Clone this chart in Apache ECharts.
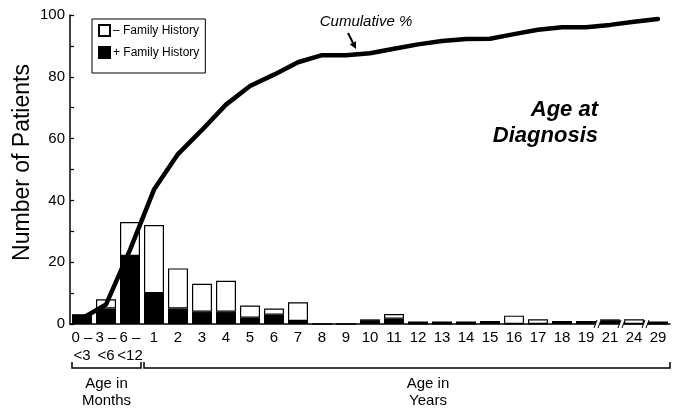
<!DOCTYPE html>
<html><head><meta charset="utf-8">
<script src="https://cdn.jsdelivr.net/npm/echarts@6/dist/echarts.min.js"></script>
<style>html,body{margin:0;padding:0;background:#fff}#c{width:683px;height:410px}</style>
</head><body><div id="c"></div>
<script>
// ---- data ----
const categories = ['0 \u2013\n<3', '3 \u2013\n<6', '6 \u2013\n<12',
  '1','2','3','4','5','6','7','8','9','10','11','12','13','14','15','16','17','18','19','21','24','29'];
// + Family History (black, bottom of stack)
const posFamily = [3, 5, 22, 10, 5, 4, 4, 2, 3, 1, 0, 0, 1, 1.7, 0, 0, 0, 0.8, 0, 0, 0.8, 0.8, 1, 0, 0];
// – Family History (white, top of stack)
const negFamily = [0, 3, 11, 22, 13, 9, 10, 4, 2, 6, 0, 0, 0.5, 1.5, 0.8, 0.8, 0.8, 0, 2.7, 1.5, 0, 0, 0.5, 1.5, 0.8];
// Cumulative % line
const cumulativePct = [1.8, 6.3, 24, 43.5, 55, 62.8, 71, 77, 80.7, 84.7, 87, 87, 87.6, 89.1, 90.5, 91.6, 92.2, 92.3, 93.8, 95.2, 96, 96, 96.8, 97.8, 98.7];
const yMin = 0, yMax = 100, yInterval = 10, yLabelStep = 20;
const breakAfter = ['19', '21', '24'];  // axis breaks "//" after these categories
const monthCats = 3;                    // first 3 categories are months

const FONT = 'Liberation Sans, Arial, Helvetica, sans-serif';
const chart = echarts.init(document.getElementById('c'), null, {renderer: 'canvas'});

const option = {
  animation: false,
  backgroundColor: '#fff',
  textStyle: {fontFamily: FONT, color: '#000'},
  grid: {left: 70, right: 13, top: 15, bottom: 86, containLabel: false, outerBoundsMode: 'none'},
  legend: {
    left: 92, top: 19, orient: 'vertical',
    data: ['\u2013 Family History', '+ Family History'],
    icon: 'rect', itemWidth: 11, itemHeight: 11, itemGap: 9,
    padding: [5, 6, 14, 6],
    backgroundColor: '#fff', borderColor: '#000', borderWidth: 1,
    textStyle: {fontSize: 12, color: '#000', fontFamily: FONT, padding: [0, 0, 0, -2]}
  },
  xAxis: {
    type: 'category', data: categories,
    axisLine: {show: true, lineStyle: {color: '#000', width: 1.5}},
    axisTick: {show: false},
    axisLabel: {interval: 0, fontSize: 15, color: '#000', margin: 5, lineHeight: 18, fontFamily: FONT}
  },
  yAxis: {
    type: 'value', min: yMin, max: yMax, interval: yInterval,
    name: 'Number of Patients', nameLocation: 'middle', nameGap: 36, nameRotate: 90,
    nameMoveOverlap: false,
    nameTextStyle: {fontSize: 23, color: '#000', fontFamily: FONT, padding: [0, 0, 0, 14]},
    axisLine: {show: true, lineStyle: {color: '#000', width: 1.5}},
    axisTick: {show: true, inside: true, length: 4, lineStyle: {color: '#000', width: 1.2}},
    splitLine: {show: false},
    axisLabel: {fontSize: 15, color: '#000', margin: 5, fontFamily: FONT,
      formatter: v => (v % yLabelStep === 0 ? String(v) : '')}
  },
  series: [
    {name: '+ Family History', type: 'bar', stack: 'fh', data: posFamily, barWidth: 20,
      itemStyle: {color: '#000', borderColor: '#000', borderWidth: 1.2}, z: 2},
    {name: '\u2013 Family History', type: 'bar', stack: 'fh', data: negFamily, barWidth: 20,
      itemStyle: {color: '#fff', borderColor: '#000', borderWidth: 1.2}, z: 2},
    {name: 'Cumulative %', type: 'line', data: cumulativePct, symbol: 'none', z: 5,
      lineStyle: {color: '#000', width: 4.5, cap: 'round', join: 'round'}}
  ]
};
chart.setOption(option);

// ---- annotations positioned from the axes ----
const px = i => chart.convertToPixel({xAxisIndex: 0}, i);
const py = v => chart.convertToPixel({yAxisIndex: 0}, v);
const band = px(1) - px(0);
const y0 = py(0);
const g = [];
// axis breaks
breakAfter.forEach(lbl => {
  const i = categories.indexOf(lbl);
  const bx = (px(i) + px(i + 1)) / 2;
  g.push({type: 'polygon', shape: {points: [[bx - 4, y0 + 4], [bx - 1, y0 - 4], [bx + 3, y0 - 4], [bx, y0 + 4]]},
    style: {fill: '#fff'}, z: 10});
  g.push({type: 'line', shape: {x1: bx - 4, y1: y0 + 4, x2: bx - 1, y2: y0 - 4}, style: {stroke: '#000', lineWidth: 1}, z: 11});
  g.push({type: 'line', shape: {x1: bx, y1: y0 + 4, x2: bx + 3, y2: y0 - 4}, style: {stroke: '#000', lineWidth: 1}, z: 11});
});
// brackets
const bY = y0 + 44, bH = 6;
const lx1 = px(0) - band / 2 + 2, lx2 = px(monthCats - 1) + band / 2 - 1;
const rx1 = px(monthCats) - band / 2 + 2, rx2 = px(categories.length - 1) + band / 2;
[[lx1, lx2], [rx1, rx2]].forEach(([a, b]) => {
  g.push({type: 'polyline', shape: {points: [[a, bY - bH], [a, bY], [b, bY], [b, bY - bH]]},
    style: {stroke: '#000', lineWidth: 1.5, fill: null}});
});
g.push({type: 'text', style: {text: 'Age in\nMonths', x: (lx1 + lx2) / 2, y: bY + 7, align: 'center', verticalAlign: 'top',
  font: '15px ' + FONT, lineHeight: 17, fill: '#000'}});
g.push({type: 'text', style: {text: 'Age in\nYears', x: 428, y: bY + 7, align: 'center', verticalAlign: 'top',
  font: '15px ' + FONT, lineHeight: 17, fill: '#000'}});
// title text
g.push({type: 'text', style: {text: 'Age at\nDiagnosis', x: 598, y: 97, align: 'right', verticalAlign: 'top',
  font: 'italic bold 22px ' + FONT, lineHeight: 26, fill: '#000'}});
// cumulative label + arrow
g.push({type: 'text', style: {text: 'Cumulative %', x: 366, y: 22, align: 'center', verticalAlign: 'middle',
  font: 'italic 15px ' + FONT, fill: '#000'}});
const ax1 = 348, ay1 = 33, ax2 = 356, ay2 = 49;
const ang = Math.atan2(ay2 - ay1, ax2 - ax1), hl = 7, hw = 3.5;
const bx0 = ax2 - hl * Math.cos(ang), by0 = ay2 - hl * Math.sin(ang);
g.push({type: 'line', shape: {x1: ax1, y1: ay1, x2: bx0, y2: by0}, style: {stroke: '#000', lineWidth: 2}});
g.push({type: 'polygon', shape: {points: [[ax2, ay2],
  [bx0 + hw * Math.sin(ang), by0 - hw * Math.cos(ang)], [bx0 - hw * Math.sin(ang), by0 + hw * Math.cos(ang)]]},
  style: {fill: '#000'}});
chart.setOption({graphic: g});
</script>
</body></html>
